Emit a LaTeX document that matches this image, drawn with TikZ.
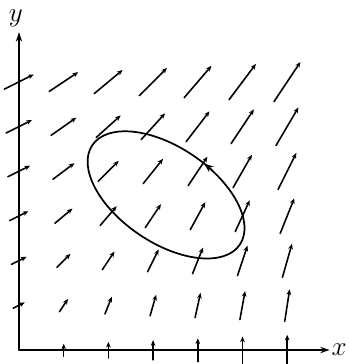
\documentclass[tikz,border=0pt]{standalone}
\usetikzlibrary{arrows.meta}

\begin{document}
\begin{tikzpicture}[line cap=round,line join=round,
    axis/.style={line width=1.2pt,-{Stealth[length=6pt,width=4pt]}},
    vec/.style={line width=1pt,-{Stealth[length=3.6pt,width=3pt]}},
    every node/.style={inner sep=1pt}]
  \useasboundingbox (-0.425,-0.313) rectangle (7.38,7.83);
  % field (y, x+y/2), arrow length grows with |F|
  \foreach \i in {0,...,6} {
    \foreach \j in {0,...,6} {
      \pgfmathsetmacro\fx{\j}
      \pgfmathsetmacro\fy{\i+0.5*\j}
      \pgfmathsetmacro\fn{sqrt(\fx*\fx+\fy*\fy)}
      \ifdim\fn pt>0pt
        \pgfmathsetmacro\hl{0.5*(0.2+0.08*\fn)/\fn}
        \draw[vec] ({\i-\hl*\fx},{\j-\hl*\fy}) -- ({\i+\hl*\fx},{\j+\hl*\fy});
      \fi
    }
  }
  % axes
  \coordinate (O) at (0,0);
  \coordinate (xend) at (6.95,0);
  \coordinate (yend) at (0,7.11);
  \draw[axis] (O) -- (xend);
  \draw[axis] (O) -- (yend);
  \node (xlab) at (7.16,0) {\LARGE $x$};
  \node (ylab) at (-0.07,7.43) {\LARGE $y$};
  % closed curve
  \def\ea{1.99}
  \def\eb{1.07}
  \coordinate (C) at (3.29,3.47);
  \draw[line width=1.1pt,rotate around={-34:(C)}] (C) ellipse[x radius=\ea,y radius=\eb];
  \draw[line width=1.1pt,rotate around={-34:(C)},-{Stealth[length=6pt,width=4.5pt]}]
    ([shift={(C)}] 74:\ea\space and \eb) arc[start angle=74,end angle=81,x radius=\ea,y radius=\eb];
\end{tikzpicture}
\end{document}
